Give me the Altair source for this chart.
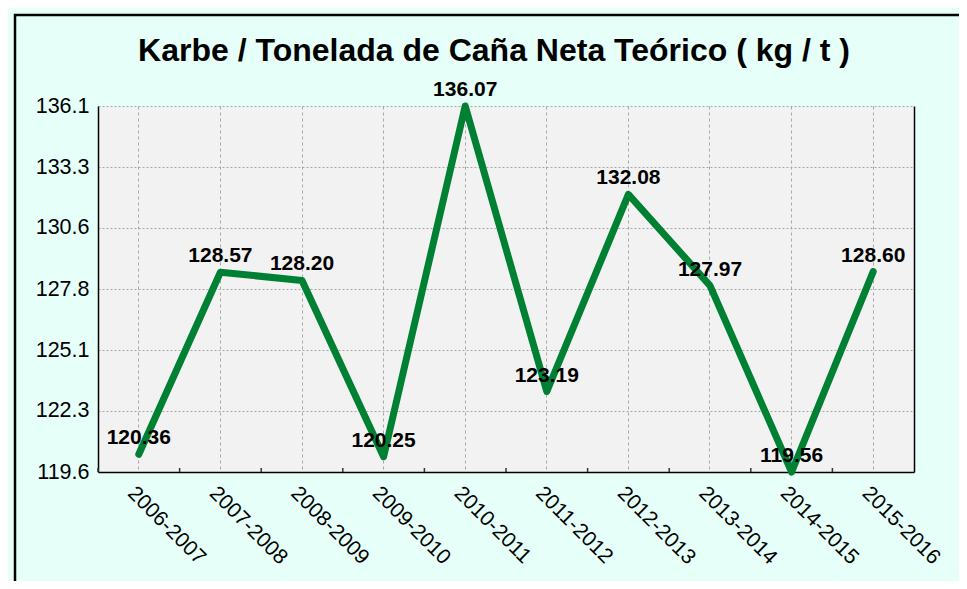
import altair as alt
import pandas as pd

seasons = ["2006-2007", "2007-2008", "2008-2009", "2009-2010", "2010-2011",
           "2011-2012", "2012-2013", "2013-2014", "2014-2015", "2015-2016"]
values = [120.36, 128.57, 128.20, 120.25, 136.07, 123.19, 132.08, 127.97, 119.56, 128.60]
labels = ["120.36", "128.57", "128.20", "120.25", "136.07", "123.19", "132.08", "127.97", "119.56", "128.60"]
y_domain = [119.56, 136.07]
y_ticks = [119.56, 122.3117, 125.0633, 127.815, 130.5667, 133.3183, 136.07]
title_text = "Karbe / Tonelada de Caña Neta Teórico ( kg / t )"

df = pd.DataFrame({"season": seasons, "value": values, "label": labels})

W, H = 816, 366
FONT = "Liberation Sans"
GREEN = "#008033"

x_scale = alt.Scale(type="band", paddingInner=0, paddingOuter=0, domain=seasons)
y_scale = alt.Scale(domain=y_domain, nice=False, zero=False)

x_axis = alt.Axis(
    title=None, labelAngle=45, labelAlign="left", labelBaseline="top",
    labelFont=FONT, labelFontSize=21, labelColor="#000", labelPadding=10,
    ticks=False, grid=True, gridDash=[3, 3], gridColor="#A8A8A8", gridWidth=1,
    domainColor="#000", domainWidth=1.5, bandPosition=0.5,
)
y_axis = alt.Axis(
    title=None, values=y_ticks, format=".1f",
    labelFont=FONT, labelFontSize=21.5, labelColor="#000", labelPadding=9,
    ticks=False, grid=True, gridDash=[2, 2], gridColor="#A8A8A8", gridWidth=1,
    domainColor="#000", domainWidth=1.5,
)
y_axis_right = alt.Axis(
    title=None, orient="right", labels=False, ticks=False, grid=False,
    domainColor="#000", domainWidth=1.5,
)

frame_df = pd.DataFrame({"f": [0]})
frame_top = alt.Chart(frame_df).mark_rule(color="#000", strokeWidth=2.5).encode(
    x=alt.value(-84), x2=alt.value(W + 120), y=alt.value(-91)
)
frame_left = alt.Chart(frame_df).mark_rule(color="#000", strokeWidth=2.5).encode(
    x=alt.value(-83), y=alt.value(-92), y2=alt.value(H + 160)
)

base = alt.Chart(df)

ticks = base.mark_rule(color="#333333", strokeWidth=1.5).encode(
    x=alt.X("season:N", scale=x_scale, sort=seasons, bandPosition=0),
    y=alt.value(H), y2=alt.value(H - 4),
)

line = base.mark_line(
    color=GREEN, strokeWidth=7, strokeCap="round", strokeJoin="round"
).encode(
    x=alt.X("season:N", scale=x_scale, sort=seasons, bandPosition=0.5, axis=x_axis),
    y=alt.Y("value:Q", scale=y_scale, axis=y_axis),
)

text = base.mark_text(
    font=FONT, fontSize=21, fontWeight="bold", color="#000", dy=-16, baseline="middle"
).encode(
    x=alt.X("season:N", scale=x_scale, sort=seasons, bandPosition=0.5),
    y=alt.Y("value:Q", scale=y_scale, axis=y_axis_right),
    text="label:N",
)

chart = alt.layer(frame_top, frame_left, ticks, line, text).resolve_axis(y="independent").properties(
    width=W, height=H,
    autosize=alt.AutoSizeParams(type="none"),
    padding={"left": 90, "top": 98, "right": 45, "bottom": 109},
    background="#E6FFF8",
    title=alt.TitleParams(
        text=title_text, font=FONT, fontSize=32, fontWeight="bold", color="#000",
        frame="group", anchor="middle", offset=-80, dx=-12, baseline="alphabetic",
    ),
).configure_view(fill="#F2F2F2", stroke="transparent")

chart.save("out.html", embed_options={"renderer": "svg", "actions": False})
